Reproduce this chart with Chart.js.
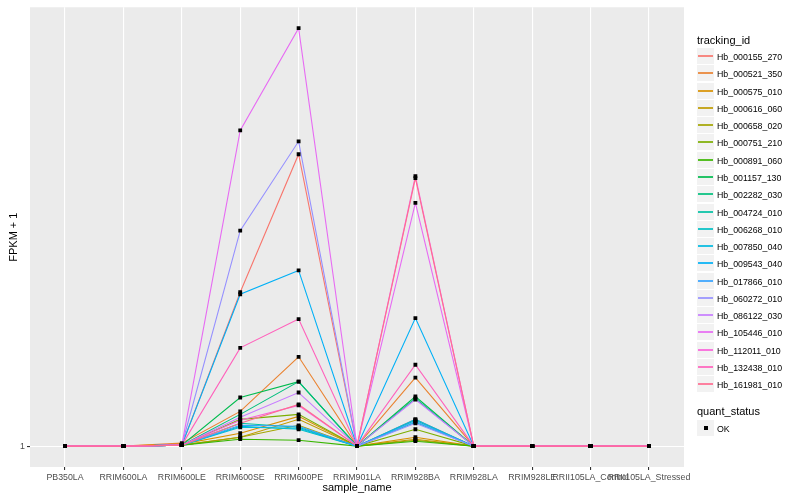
<!DOCTYPE html>
<html>
<head>
<meta charset="utf-8">
<script src="https://cdn.jsdelivr.net/npm/chart.js@4"></script>
<style>
  body { margin: 0; background: #fff; font-family: "Liberation Sans", Arial, sans-serif; }
  #wrap { position: relative; width: 800px; height: 500px; }
  .lg-title { position: absolute; font-size: 11px; line-height: 13px; color: #000; white-space: nowrap; }
  .lg-key { position: absolute; width: 17px; height: 16px; background: #F2F2F2; }
  .lg-line { position: absolute; left: 1px; right: 1px; top: 7px; height: 2px; opacity: 0.85; }
  .lg-pt { position: absolute; left: 7px; top: 6px; width: 4px; height: 4px; background: #000; }
  .lg-label { position: absolute; font-size: 8.8px; line-height: 10px; color: #000; white-space: nowrap; }
</style>
</head>
<body>
<div id="wrap">
  <canvas id="chart" width="800" height="500"></canvas>
  <div id="legend"></div>
</div>
<script>
// x categories
const categories = ['PB350LA', 'RRIM600LA', 'RRIM600LE', 'RRIM600SE', 'RRIM600PE', 'RRIM901LA',
  'RRIM928BA', 'RRIM928LA', 'RRIM928LE', 'RRII105LA_Control', 'RRII105LA_Stressed'];

// FPKM + 1, one array per tracking_id
const Hb_000155_270 = [1, 1, 2, 156, 295, 1, 28, 1, 1, 1, 1];
const Hb_000521_350 = [1, 1, 4, 36, 91, 1, 70, 1, 1, 1, 1];
const Hb_000575_010 = [1, 1, 3, 14, 31, 1, 10, 1, 1, 1, 1];
const Hb_000616_060 = [1, 1, 2, 10, 28, 1, 8, 1, 1, 1, 1];
const Hb_000658_020 = [1, 1, 2, 10, 22, 1, 7, 1, 1, 1, 1];
const Hb_000751_210 = [1, 1, 2, 28, 33, 1, 18, 1, 1, 1, 1];
const Hb_000891_060 = [1, 1, 2, 8, 7, 1, 6, 1, 1, 1, 1];
const Hb_001157_130 = [1, 1, 2, 50, 66, 1, 51, 1, 1, 1, 1];
const Hb_002282_030 = [1, 1, 2, 33, 66, 1, 49, 1, 1, 1, 1];
const Hb_004724_010 = [1, 1, 2, 24, 20, 1, 27, 1, 1, 1, 1];
const Hb_006268_010 = [1, 1, 2, 21, 18, 1, 25, 1, 1, 1, 1];
const Hb_007850_040 = [1, 1, 2, 20, 19, 1, 28, 1, 1, 1, 1];
const Hb_009543_040 = [1, 1, 2, 154, 178, 1, 130, 1, 1, 1, 1];
const Hb_017866_010 = [1, 1, 2, 22, 21, 1, 26, 1, 1, 1, 1];
const Hb_060272_010 = [1, 1, 2, 218, 308, 1, 24, 1, 1, 1, 1];
const Hb_086122_030 = [1, 1, 2, 30, 55, 1, 48, 1, 1, 1, 1];
const Hb_105446_010 = [1, 1, 2, 319, 422, 1, 246, 1, 1, 1, 1];
const Hb_112011_010 = [1, 1, 2, 27, 42, 1, 273, 1, 1, 1, 1];
const Hb_132438_010 = [1, 1, 2, 100, 129, 1, 83, 1, 1, 1, 1];
const Hb_161981_010 = [1, 1, 2, 24, 43, 1, 271, 1, 1, 1, 1];

const trackingIds = ['Hb_000155_270', 'Hb_000521_350', 'Hb_000575_010', 'Hb_000616_060', 'Hb_000658_020',
  'Hb_000751_210', 'Hb_000891_060', 'Hb_001157_130', 'Hb_002282_030', 'Hb_004724_010', 'Hb_006268_010',
  'Hb_007850_040', 'Hb_009543_040', 'Hb_017866_010', 'Hb_060272_010', 'Hb_086122_030', 'Hb_105446_010',
  'Hb_112011_010', 'Hb_132438_010', 'Hb_161981_010'];
const seriesValues = [Hb_000155_270, Hb_000521_350, Hb_000575_010, Hb_000616_060, Hb_000658_020,
  Hb_000751_210, Hb_000891_060, Hb_001157_130, Hb_002282_030, Hb_004724_010, Hb_006268_010,
  Hb_007850_040, Hb_009543_040, Hb_017866_010, Hb_060272_010, Hb_086122_030, Hb_105446_010,
  Hb_112011_010, Hb_132438_010, Hb_161981_010];
const yTicks = [1];
const quantStatus = ['OK'];

// ggplot hue palette, 20 levels
const colors = ['#F8766D', '#EA8331', '#D89000', '#C09B00', '#A3A500', '#7CAE00', '#39B600', '#00BB4E',
  '#00BF7D', '#00C1A3', '#00BFC4', '#00BAE0', '#00B0F6', '#35A2FF', '#9590FF', '#C77CFF', '#E76BF3',
  '#FA62DB', '#FF62BC', '#FF6C91'];

const family = '"Liberation Sans", Arial, sans-serif';

// lines first (series 1 at the bottom), black points on top
const datasets = seriesValues.map((vals, s) => ({
  label: trackingIds[s],
  data: vals.map((v, i) => ({ x: i, y: v })),
  borderColor: colors[s],
  borderWidth: 1.1,
  pointRadius: 0,
  tension: 0,
  order: seriesValues.length - s
}));
datasets.push({
  label: 'points',
  data: seriesValues.flatMap(vals => vals.map((v, i) => ({ x: i, y: v }))),
  showLine: false,
  pointStyle: 'rect',
  pointRadius: 2.7,
  pointBackgroundColor: '#000',
  pointBorderWidth: 0,
  order: 0
});

const panelBg = {
  id: 'panelBg',
  beforeDraw(chart) {
    const { ctx, chartArea: a } = chart;
    ctx.save();
    ctx.fillStyle = '#EBEBEB';
    ctx.fillRect(a.left, a.top, a.right - a.left, a.bottom - a.top);
    ctx.restore();
  }
};

new Chart(document.getElementById('chart').getContext('2d'), {
  type: 'line',
  data: { datasets },
  options: {
    responsive: false,
    animation: false,
    devicePixelRatio: 1,
    layout: { padding: { top: 5, right: 116, bottom: 0, left: 0 } },
    plugins: { legend: { display: false }, tooltip: { enabled: false } },
    scales: {
      x: {
        type: 'linear', min: -0.6, max: 10.6,
        afterBuildTicks: s => { s.ticks = categories.map((c, i) => ({ value: i })); },
        afterFit: s => { s.height = 33; },
        ticks: { autoSkip: false, maxRotation: 0, minRotation: 0, padding: 2, color: '#4D4D4D',
          font: { size: 8.8, family }, callback: v => categories[v] },
        grid: { color: '#FFFFFF', lineWidth: 1.1, tickLength: 3, tickColor: '#333333' },
        border: { display: false },
        title: { display: true, text: 'sample_name', color: '#000', font: { size: 11, family },
          padding: { top: 0, bottom: 5 } }
      },
      y: {
        type: 'linear', min: -20, max: 443,
        afterBuildTicks: s => { s.ticks = yTicks.map(v => ({ value: v })); },
        afterFit: s => { s.width = 30; },
        ticks: { padding: 2, color: '#4D4D4D', font: { size: 8.8, family } },
        grid: { color: '#FFFFFF', lineWidth: 1.1, tickLength: 3, tickColor: '#333333' },
        border: { display: false },
        title: { display: true, text: 'FPKM + 1', color: '#000', font: { size: 11, family },
          padding: { top: 7, bottom: 0 } }
      }
    }
  },
  plugins: [panelBg]
});

// legend (ggplot style, right side)
const legend = document.getElementById('legend');
function addEl(cls, left, top, html) {
  const d = document.createElement('div');
  d.className = cls;
  d.style.left = left + 'px';
  d.style.top = top + 'px';
  if (html) d.innerHTML = html;
  legend.appendChild(d);
  return d;
}
const keyStep = 17.28;
addEl('lg-title', 697, 34, 'tracking_id');
trackingIds.forEach((id, i) => {
  const top = Math.round(48 + i * keyStep);
  const key = addEl('lg-key', 697, top);
  const ln = document.createElement('div');
  ln.className = 'lg-line';
  ln.style.background = colors[i];
  key.appendChild(ln);
  addEl('lg-label', 717, top + 3.6, id);
});
addEl('lg-title', 697, 405, 'quant_status');
quantStatus.forEach((q, i) => {
  const top = 420 + Math.round(i * keyStep);
  const key = addEl('lg-key', 697, top);
  const pt = document.createElement('div');
  pt.className = 'lg-pt';
  key.appendChild(pt);
  addEl('lg-label', 717, top + 3.6, q);
});
</script>
</body>
</html>
